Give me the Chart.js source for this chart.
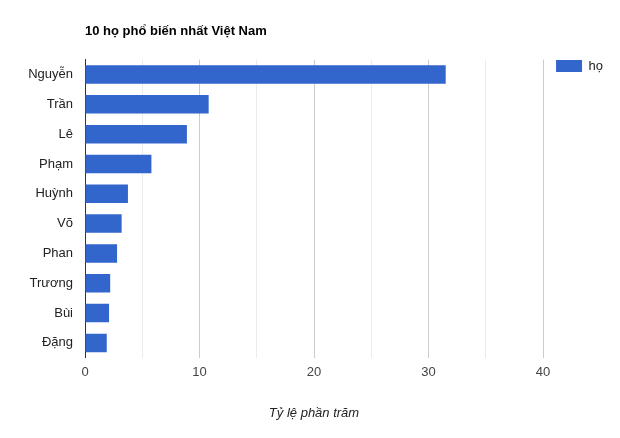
<!DOCTYPE html>
<html>
<head>
<meta charset="utf-8">
<script src="https://cdn.jsdelivr.net/npm/chart.js@4"></script>
<style>
  html, body { margin: 0; padding: 0; background: #fff; }
  #wrap { width: 620px; height: 438px; }
</style>
</head>
<body>
<div id="wrap"><canvas id="c" width="620" height="438"></canvas></div>
<script>
const categories = ["Nguyễn", "Trần", "Lê", "Phạm", "Huỳnh", "Võ", "Phan", "Trương", "Bùi", "Đặng"];
const seriesLabel = "họ";
const seriesValues = [31.5, 10.8, 8.9, 5.8, 3.75, 3.2, 2.8, 2.2, 2.1, 1.9];
const xTickValues = [0, 10, 20, 30, 40];
const chartTitle = "10 họ phổ biến nhất Việt Nam";
const xAxisTitle = "Tỷ lệ phần trăm";

const FONT = "Arial, 'Liberation Sans', sans-serif";

const legendShift = {
  id: 'legendShift',
  afterLayout(chart) {
    const lg = chart.legend;
    if (lg) { lg.top -= 13; lg.bottom -= 13; }
  }
};

new Chart(document.getElementById('c'), {
  type: 'bar',
  data: {
    labels: categories,
    datasets: [{
      label: seriesLabel,
      data: seriesValues,
      backgroundColor: '#3366cc',
      borderWidth: 0,
      barPercentage: 0.62,
      categoryPercentage: 1.0
    }]
  },
  plugins: [legendShift],
  options: {
    indexAxis: 'y',
    responsive: false,
    animation: false,
    devicePixelRatio: 1,
    layout: { padding: { left: 0, right: 7, top: 0, bottom: 0 } },
    plugins: {
      tooltip: { enabled: false },
      title: {
        display: true,
        text: chartTitle,
        align: 'start',
        fullSize: false,
        color: '#000',
        font: { family: FONT, size: 13, weight: 'bold' },
        padding: { top: 24, bottom: 20 }
      },
      legend: {
        display: true,
        position: 'right',
        align: 'start',
        fullSize: false,
        labels: {
          boxWidth: 26,
          boxHeight: 12,
          padding: 13,
          color: '#222',
          font: { family: FONT, size: 13 }
        }
      }
    },
    scales: {
      x: {
        type: 'linear',
        min: 0,
        max: 40,
        afterBuildTicks(scale) {
          scale.ticks = [0, 5, 10, 15, 20, 25, 30, 35, 40].map(v => ({ value: v }));
        },
        ticks: {
          autoSkip: false,
          maxRotation: 0,
          padding: 7,
          color: '#444',
          font: { family: FONT, size: 13 },
          callback: (v) => xTickValues.includes(v) ? String(v) : ''
        },
        grid: {
          drawTicks: false,
          color: (ctx) => {
            const v = ctx.tick ? ctx.tick.value : null;
            if (v === 0) return '#333';
            return (v % 10 === 0) ? '#cccccc' : '#ebebeb';
          },
          lineWidth: 1
        },
        border: { display: false },
        title: {
          display: true,
          text: xAxisTitle,
          color: '#222',
          font: { family: FONT, size: 13, style: 'italic' },
          padding: { top: 18, bottom: 17 }
        }
      },
      y: {
        afterFit(scale) { scale.width = 85; },
        ticks: {
          padding: 12,
          color: '#222',
          font: { family: FONT, size: 13 }
        },
        grid: { display: false, drawTicks: false },
        border: { display: true, color: '#333', width: 1 }
      }
    }
  }
});
</script>
</body>
</html>
